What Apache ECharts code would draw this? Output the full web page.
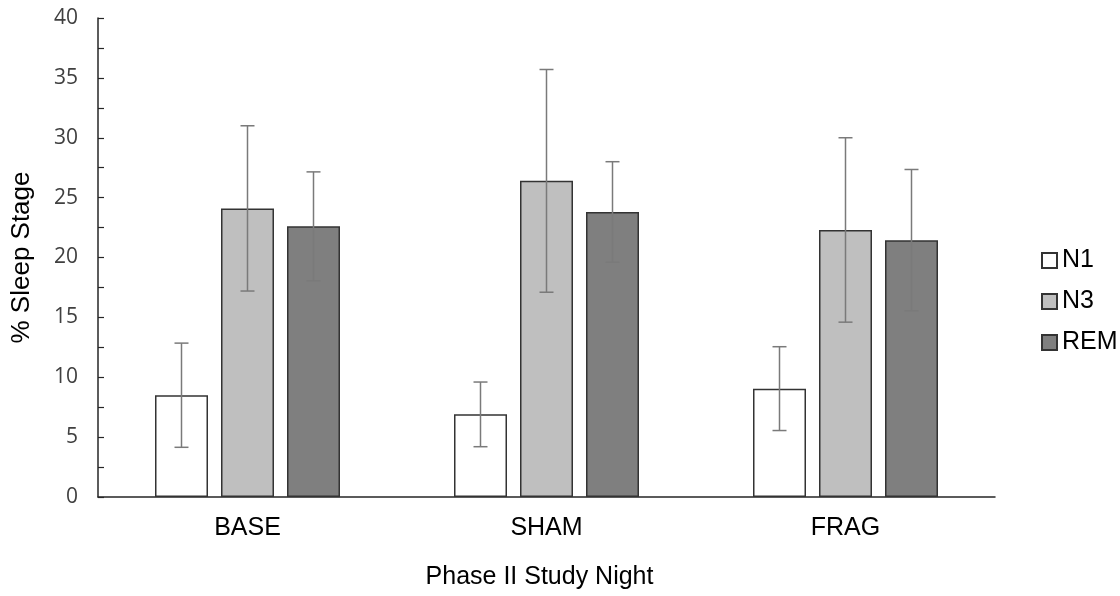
<!DOCTYPE html>
<html>
<head>
<meta charset="utf-8">
<script src="https://cdn.jsdelivr.net/npm/echarts@6/dist/echarts.min.js"></script>
<style>
  html, body { margin: 0; padding: 0; background: #fff; }
  #chart { width: 1120px; height: 596px; }
</style>
</head>
<body>
<div id="chart"></div>
<script>
// Sleep stage percentages per study night, with standard deviations
const nights = ['BASE', 'SHAM', 'FRAG'];
const stages = ['N1', 'N3', 'REM'];
const n1Mean  = [8.5, 6.9, 9.05];
const n3Mean  = [24.1, 26.4, 22.3];
const remMean = [22.6, 23.8, 21.45];
const n1Sd  = [4.35, 2.7, 3.5];
const n3Sd  = [6.9, 9.3, 7.7];
const remSd = [4.55, 4.2, 5.9];
const yTicks = [0, 5, 10, 15, 20, 25, 30, 35, 40];

const means = [n1Mean, n3Mean, remMean];
const sds = [n1Sd, n3Sd, remSd];
const fills = ['#ffffff', '#bfbfbf', '#7f7f7f'];

const BAR_W = 53;
const BAR_GAP = 13;
const FONT = 'Liberation Sans, Arial, sans-serif';
const TICK_FONT = 'Open Sans, Liberation Sans, sans-serif';

const chart = echarts.init(document.getElementById('chart'));

const barSeries = stages.map((name, i) => ({
  name: name,
  type: 'bar',
  barWidth: BAR_W,
  barGap: (BAR_GAP / BAR_W * 100) + '%',
  data: means[i],
  itemStyle: { color: fills[i], borderColor: '#333333', borderWidth: 1.5 },
  z: 2
}));

// Error bars drawn as custom series, centred on each bar of the group
const errorSeries = stages.map((name, i) => ({
  type: 'custom',
  name: name + ' SD',
  z: 5,
  silent: true,
  data: means[i].map((m, k) => [k, m - sds[i][k], m + sds[i][k]]),
  renderItem: function (params, api) {
    const shift = (i - 1) * (BAR_W + BAR_GAP);
    const lo = api.coord([api.value(0), api.value(1)]);
    const hi = api.coord([api.value(0), api.value(2)]);
    const x = lo[0] + shift;
    const cap = 7;
    const style = { stroke: '#7a7a7a', lineWidth: 1.5 };
    return {
      type: 'group',
      children: [
        { type: 'line', shape: { x1: x, y1: lo[1], x2: x, y2: hi[1] }, style: style },
        { type: 'line', shape: { x1: x - cap, y1: hi[1], x2: x + cap, y2: hi[1] }, style: style },
        { type: 'line', shape: { x1: x - cap, y1: lo[1], x2: x + cap, y2: lo[1] }, style: style }
      ]
    };
  }
}));

chart.setOption({
  backgroundColor: '#ffffff',
  animation: false,
  textStyle: { fontFamily: FONT },
  grid: { left: 98, right: 125, top: 18, bottom: 99 },
  legend: {
    data: stages,
    orient: 'vertical',
    left: 1036,
    top: 243,
    itemWidth: 15,
    itemHeight: 15,
    itemGap: 16,
    icon: 'rect',
    textStyle: { fontFamily: FONT, fontSize: 25, color: '#000' }
  },
  xAxis: {
    type: 'category',
    data: nights,
    axisLine: { lineStyle: { color: '#262626', width: 1.5 } },
    axisTick: { show: false },
    axisLabel: { fontFamily: FONT, fontSize: 25, color: '#000', margin: 19 },
    name: 'Phase II Study Night',
    nameLocation: 'middle',
    nameGap: 68,
    nameTextStyle: { fontFamily: FONT, fontSize: 25, color: '#000', padding: [0, 14, 0, 0] }
  },
  yAxis: {
    type: 'value',
    min: yTicks[0],
    max: yTicks[yTicks.length - 1],
    interval: 5,
    axisLine: { show: true, lineStyle: { color: '#262626', width: 1.5 } },
    axisTick: { show: true, inside: true, length: 6, lineStyle: { color: '#262626', width: 1.2 } },
    minorTick: { show: true, splitNumber: 2, length: 6, lineStyle: { color: '#262626', width: 1.2 } },
    splitLine: { show: false },
    axisLabel: { fontFamily: TICK_FONT, fontSize: 21, color: '#404040', margin: 20 },
    name: '% Sleep Stage',
    nameLocation: 'middle',
    nameRotate: 90,
    nameGap: 63,
    nameTextStyle: { fontFamily: FONT, fontSize: 26, color: '#000' }
  },
  series: barSeries.concat(errorSeries)
});
</script>
</body>
</html>
